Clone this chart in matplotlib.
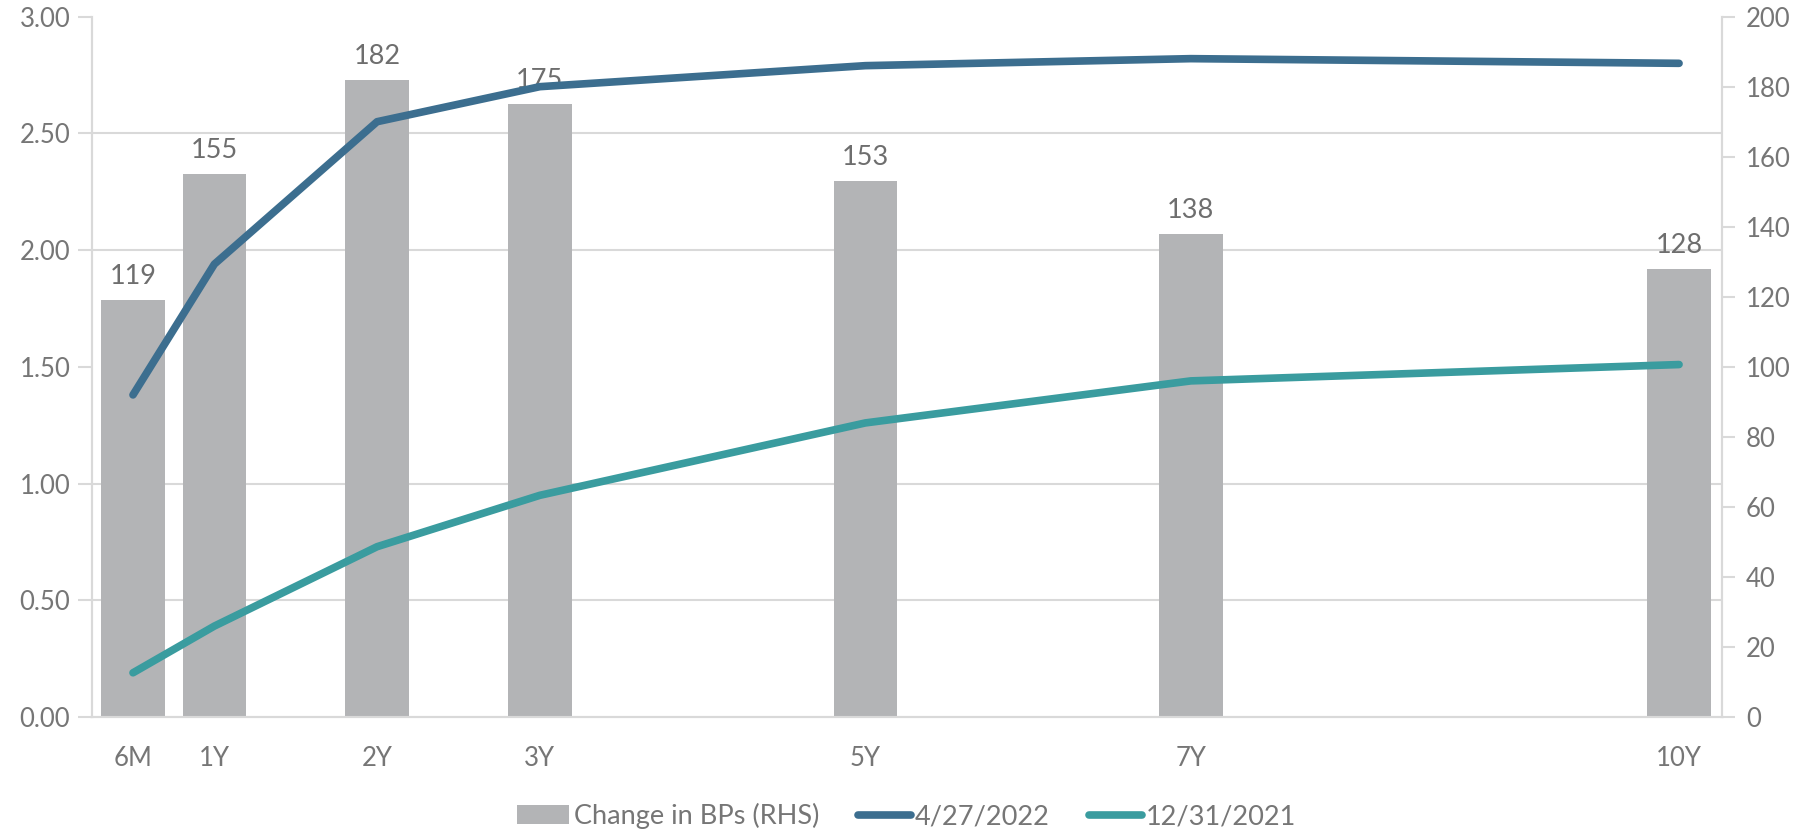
import matplotlib
matplotlib.use("Agg")
import matplotlib.pyplot as plt
import numpy as np

# tenors in years (6M = 0.5) and their labels
tenors = [0.5, 1, 2, 3, 5, 7, 10]
tenor_labels = ["6M", "1Y", "2Y", "3Y", "5Y", "7Y", "10Y"]

# yields (%)
yld_apr22 = [1.38, 1.94, 2.55, 2.70, 2.79, 2.82, 2.80]
yld_dec21 = [0.19, 0.39, 0.73, 0.95, 1.26, 1.44, 1.51]

# change in basis points (RHS)
chg_bps = [119, 155, 182, 175, 153, 138, 128]

BAR_C = "#B3B4B6"
DARK_C = "#3C6E8F"
TEAL_C = "#3A9C9F"
TXT_C = "#767676"
GRID_C = "#D9D9D9"

TICK_FS = 18.5
LBL_FS = 19.5

plt.rcParams["font.family"] = ["Lato", "DejaVu Sans"]

fig = plt.figure(figsize=(18.13, 8.31), dpi=100)
ax = fig.add_axes([0.051, 0.137, 0.899, 0.843])
axb = ax.twinx()

# bars sit on the right-hand axis, drawn underneath the lines
ax.set_zorder(axb.get_zorder() + 1)
ax.patch.set_visible(False)

bars = axb.bar(tenors, chg_bps, width=0.39, color=BAR_C, zorder=2)
axb.bar_label(bars, labels=[str(v) for v in chg_bps], padding=8,
              fontsize=LBL_FS, color="#6E6E6E")
axb.set_ylim(0, 200)
axb.set_yticks(np.arange(0, 201, 20))
axb.set_yticks(np.arange(0, 201, 200 / 6), minor=True)
axb.grid(True, which="minor", axis="y", color=GRID_C, lw=1.5, zorder=0)
axb.set_axisbelow(True)
axb.tick_params(axis="y", which="major", direction="out", length=9, width=1.5,
                color=GRID_C, labelcolor=TXT_C, labelsize=TICK_FS, pad=8)
axb.tick_params(axis="y", which="minor", length=0)

ax.plot(tenors, yld_apr22, color=DARK_C, lw=5.5, solid_capstyle="round",
        solid_joinstyle="round", label="4/27/2022")
ax.plot(tenors, yld_dec21, color=TEAL_C, lw=5.5, solid_capstyle="round",
        solid_joinstyle="round", label="12/31/2021")
ax.set_ylim(0, 3)
ax.set_yticks(np.arange(0, 3.01, 0.5))
ax.set_yticklabels([f"{v:.2f}" for v in np.arange(0, 3.01, 0.5)])
ax.tick_params(axis="y", direction="out", length=10, width=1.5, color=GRID_C,
               labelcolor=TXT_C, labelsize=TICK_FS, pad=6)

ax.set_xlim(0.251, 10.266)
ax.set_xticks(tenors)
ax.set_xticklabels(tenor_labels)
ax.tick_params(axis="x", length=0, labelcolor=TXT_C, labelsize=TICK_FS, pad=21)

for a in (ax, axb):
    a.spines["top"].set_visible(False)
    for s in ("left", "right", "bottom"):
        a.spines[s].set_color(GRID_C)
        a.spines[s].set_linewidth(1.5)

h1, h2 = ax.get_lines()
fig.legend([bars, h1, h2], ["Change in BPs (RHS)", "4/27/2022", "12/31/2021"],
           loc="center", bbox_to_anchor=(0.5, 0.018), ncol=3, frameon=False,
           fontsize=LBL_FS, labelcolor=TXT_C, handlelength=1.95,
           handletextpad=0.15, columnspacing=1.45)

fig.savefig("out.png", dpi=100)
